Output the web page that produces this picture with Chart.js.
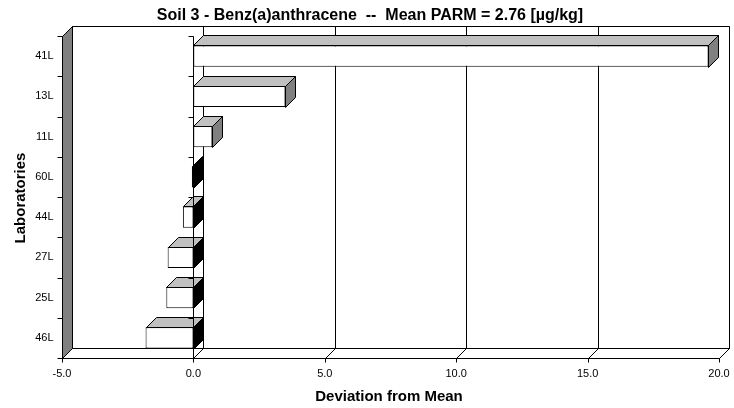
<!DOCTYPE html>
<html><head><meta charset="utf-8">
<script src="https://cdn.jsdelivr.net/npm/chart.js@4.4.1/dist/chart.umd.min.js"></script>
<style>html,body{margin:0;padding:0;background:#fff;}canvas{display:block;}</style>
</head><body>
<canvas id="c" width="734" height="408"></canvas>
<script>
const labs = ['41L', '13L', '11L', '60L', '44L', '27L', '25L', '46L'];
const deviations = [19.6, 3.5, 0.72, -0.06, -0.4, -0.98, -1.03, -1.82];
const xTicks = [-5, 0, 5, 10, 15, 20];
const chartTitle = 'Soil 3 - Benz(a)anthracene  --  Mean PARM = 2.76 [µg/kg]';
const xTitle = 'Deviation from Mean';
const yTitle = 'Laboratories';

const DEPTH = 10;
const FONT = '"Liberation Sans", Arial, sans-serif';

function P(v) { return Math.round(v) + 0.5; }
function poly(ctx, pts, fill) {
  ctx.beginPath();
  ctx.moveTo(pts[0][0], pts[0][1]);
  for (let i = 1; i < pts.length; i++) ctx.lineTo(pts[i][0], pts[i][1]);
  ctx.closePath();
  if (fill) { ctx.fillStyle = fill; ctx.fill(); }
  ctx.stroke();
}
function seg(ctx, x1, y1, x2, y2) {
  ctx.beginPath(); ctx.moveTo(x1, y1); ctx.lineTo(x2, y2); ctx.stroke();
}

const plugin3d = {
  id: 'p3d',
  beforeDatasetsDraw(chart) {
    const ctx = chart.ctx, a = chart.chartArea, xs = chart.scales.x, d = DEPTH;
    const L = P(a.left), R = P(a.right), T = P(a.top), B = P(a.bottom);
    ctx.save();
    ctx.lineWidth = 1; ctx.strokeStyle = '#000';
    // back wall
    poly(ctx, [[L + d, T - d], [R + d, T - d], [R + d, B - d], [L + d, B - d]], '#fff');
    xTicks.forEach(v => {
      const px = P(xs.getPixelForValue(v)) + d;
      seg(ctx, px, T - d, px, B - d);
    });
    // floor
    poly(ctx, [[L, B], [L + d, B - d], [R + d, B - d], [R, B]], '#fff');
    xTicks.forEach(v => {
      const px = P(xs.getPixelForValue(v));
      seg(ctx, px, B, px + d, B - d);
    });
    // left wall
    poly(ctx, [[L, T], [L + d, T - d], [L + d, B - d], [L, B]], '#808080');
    ctx.restore();
  },
  afterDatasetsDraw(chart) {
    const ctx = chart.ctx, a = chart.chartArea, xs = chart.scales.x, d = DEPTH;
    const L = P(a.left), R = P(a.right), T = P(a.top), B = P(a.bottom);
    ctx.save();
    ctx.lineWidth = 1; ctx.strokeStyle = '#000';
    const meta = chart.getDatasetMeta(0);
    meta.data.forEach((el, i) => {
      const p = el.getProps(['x', 'y', 'base', 'height'], true);
      const left = P(Math.min(p.x, p.base)), right = P(Math.max(p.x, p.base));
      const top = P(p.y - p.height / 2), bottom = P(p.y + p.height / 2);
      poly(ctx, [[left, top], [left + d, top - d], [right + d, top - d], [right, top]], '#c0c0c0');
      poly(ctx, [[right, top], [right + d, top - d], [right + d, bottom - d], [right, bottom]],
        deviations[i] >= 0 ? '#808080' : '#000');
    });
    // category axis at zero
    const x0 = P(xs.getPixelForValue(0));
    seg(ctx, x0, T, x0, B);
    const n = labs.length;
    for (let i = 0; i <= n; i++) {
      const yy = P(a.top + i * (a.bottom - a.top) / n);
      seg(ctx, L - 5, yy, L, yy);
      seg(ctx, x0 - 5, yy, x0, yy);
    }
    seg(ctx, L, T, L, B);
    // x tick marks
    xTicks.forEach(v => {
      const px = P(xs.getPixelForValue(v));
      seg(ctx, px, B, px, B + 4);
    });
    // titles
    ctx.fillStyle = '#000';
    ctx.textAlign = 'center';
    ctx.textBaseline = 'alphabetic';
    ctx.font = 'bold 16px ' + FONT;
    ctx.fillText(chartTitle, 370, 19.5);
    ctx.font = 'bold 15px ' + FONT;
    ctx.fillText(xTitle, 389, 400.5);
    ctx.translate(24.5, 198);
    ctx.rotate(-Math.PI / 2);
    ctx.fillText(yTitle, 0, 0);
    ctx.restore();
  }
};

new Chart(document.getElementById('c'), {
  type: 'bar',
  data: {
    labels: labs,
    datasets: [{
      data: deviations,
      backgroundColor: '#ffffff',
      borderColor: '#000000',
      borderWidth: 1,
      borderSkipped: false,
      barPercentage: 0.53,
      categoryPercentage: 1.0
    }]
  },
  options: {
    indexAxis: 'y',
    responsive: false,
    animation: false,
    devicePixelRatio: 1,
    layout: { padding: { top: 36, right: 15, bottom: 0, left: 0 } },
    plugins: { legend: { display: false }, tooltip: { enabled: false }, title: { display: false } },
    scales: {
      x: {
        type: 'linear', min: -5, max: 20,
        afterBuildTicks(scale) { scale.ticks = xTicks.map(v => ({ value: v })); },
        ticks: { callback: v => Number(v).toFixed(1), color: '#000', font: { family: FONT, size: 11 }, padding: 9, maxRotation: 0, autoSkip: false },
        grid: { display: false, drawTicks: false },
        border: { display: false },
        afterFit(scale) { scale.height = 50; scale.paddingLeft = 0; scale.paddingRight = 0; }
      },
      y: {
        ticks: { color: '#000', font: { family: FONT, size: 11 }, padding: 8.5 },
        grid: { display: false, drawTicks: false },
        border: { display: false },
        afterFit(scale) { scale.width = 62; scale.paddingTop = 0; scale.paddingBottom = 0; }
      }
    }
  },
  plugins: [plugin3d]
});
</script>
</body></html>
